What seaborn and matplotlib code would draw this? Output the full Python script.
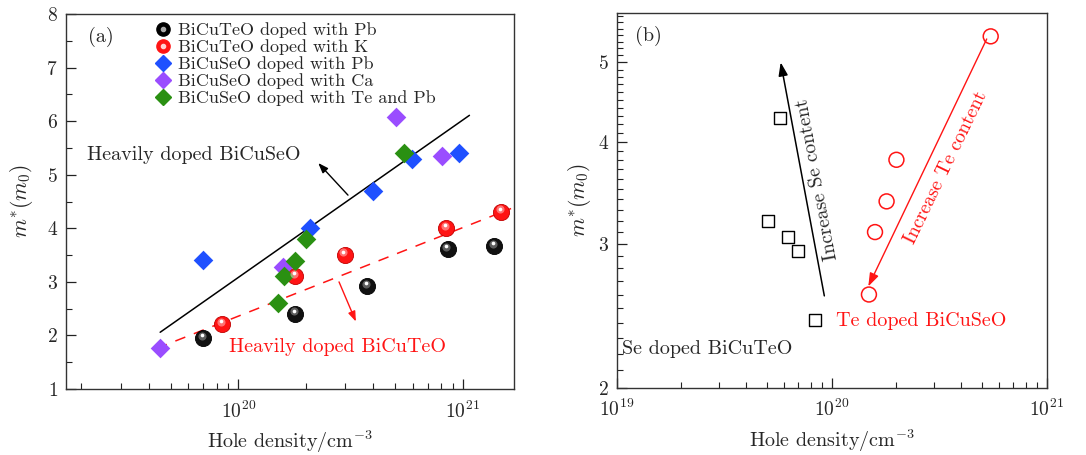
import numpy as np
import matplotlib
matplotlib.use("Agg")
import matplotlib.pyplot as plt
import matplotlib.ticker as mticker
from matplotlib.lines import Line2D
from matplotlib.legend_handler import HandlerTuple
from matplotlib.transforms import offset_copy
import seaborn as sns

# -- data, panel (a)
te_pb_x = [7.0e19, 1.79e20, 3.76e20, 8.58e20, 1.38e21]
te_pb_y = [1.95, 2.41, 2.92, 3.61, 3.67]
te_k_x = [8.49e19, 1.79e20, 2.98e20, 8.44e20, 1.48e21]
te_k_y = [2.21, 3.11, 3.51, 4.00, 4.31]
se_pb_x = [7.0e19, 2.08e20, 3.98e20, 5.93e20, 9.57e20]
se_pb_y = [3.41, 4.00, 4.70, 5.29, 5.40]
se_ca_x = [4.49e19, 1.58e20, 5.06e20, 8.10e20]
se_ca_y = [1.77, 3.28, 6.08, 5.35]
se_tepb_x = [1.51e20, 1.60e20, 1.79e20, 2.00e20, 5.47e20]
se_tepb_y = [2.61, 3.11, 3.39, 3.80, 5.41]

fit_se_x = [4.49e19, 1.07e21]
fit_se_y = [2.06, 6.11]
fit_te_x = [4.34e19, 1.64e21]
fit_te_y = [1.76, 4.37]

labels_a = ["BiCuTeO doped with Pb", "BiCuTeO doped with K", "BiCuSeO doped with Pb",
            "BiCuSeO doped with Ca", "BiCuSeO doped with Te and Pb"]

# -- data, panel (b)
se_doped_x = [5.75e19, 5.07e19, 6.28e19, 6.95e19, 8.39e19]
se_doped_y = [4.27, 3.20, 3.06, 2.94, 2.42]
te_doped_x = [5.49e20, 2.00e20, 1.80e20, 1.59e20, 1.49e20]
te_doped_y = [5.38, 3.80, 3.38, 3.10, 2.60]

# -- style
sns.set_style("ticks")
plt.rcParams['font.family'] = ['cmr10', 'DejaVu Serif']
plt.rcParams['mathtext.fontset'] = 'cm'
plt.rcParams['axes.formatter.use_mathtext'] = True
plt.rcParams['axes.unicode_minus'] = False
plt.rcParams['xtick.direction'] = 'in'
plt.rcParams['ytick.direction'] = 'in'

BLACK = '#111111'
RED = '#ff1414'
BLUE = '#1f50ff'
PURPLE = '#9a4dff'
GREEN = '#2a9012'

FS_TICK = 14
FS_TEXT = 14.5
FS_LABEL = 14.5

fig = plt.figure(figsize=(10.86, 4.55), dpi=100)
ax_a = fig.add_axes([0.0608, 0.145, 0.4125, 0.824])
ax_b = fig.add_axes([0.5679, 0.148, 0.3959, 0.824])


def style_axes(ax):
    for sp in ax.spines.values():
        sp.set_color('#333333')
        sp.set_linewidth(1.0)
    ax.tick_params(which='major', length=7, width=0.9, labelsize=FS_TICK, color='#222222')
    ax.tick_params(axis='y', which='major', pad=6)
    ax.tick_params(axis='x', which='major', pad=8)
    ax.tick_params(which='minor', length=4, width=0.8, color='#222222')
    ax.tick_params(top=False, right=False, which='both')


def spheres(ax, x, y, base, edge, light):
    # shaded balls: base disc + two offset highlights
    sns.scatterplot(x=x, y=y, ax=ax, color=base, s=135, edgecolor=edge, linewidth=0.6, zorder=3)
    tr1 = offset_copy(ax.transData, fig=fig, x=-1.5, y=2.5, units='dots')
    tr2 = offset_copy(ax.transData, fig=fig, x=-1.5, y=3.0, units='dots')
    ax.scatter(x, y, s=34, color=light, alpha=0.55, linewidths=0, transform=tr1, zorder=4)
    ax.scatter(x, y, s=7, color='white', linewidths=0, transform=tr2, zorder=5)


# -- panel (a)
ax = ax_a
ax.set_xscale('log')
sns.lineplot(x=fit_se_x, y=fit_se_y, ax=ax, color='black', lw=1.1, zorder=2)
sns.lineplot(x=fit_te_x, y=fit_te_y, ax=ax, color=RED, lw=1.1, dashes=False, zorder=2)
ax.lines[-1].set_dashes((7, 6))

spheres(ax, te_pb_x, te_pb_y, BLACK, 'black', '#9a9a9a')
spheres(ax, te_k_x, te_k_y, RED, '#c00000', '#ffc0c0')
sns.scatterplot(x=se_pb_x, y=se_pb_y, ax=ax, marker='D', color=BLUE, s=100, linewidth=0, zorder=3)
sns.scatterplot(x=se_ca_x, y=se_ca_y, ax=ax, marker='D', color=PURPLE, s=100, linewidth=0, zorder=3)
sns.scatterplot(x=se_tepb_x, y=se_tepb_y, ax=ax, marker='D', color=GREEN, s=100, linewidth=0, zorder=3)

ax.set_xlim(1.71e19, 1.69e21)
ax.set_ylim(1, 8)
ax.yaxis.set_major_locator(mticker.MultipleLocator(1))
ax.yaxis.set_minor_locator(mticker.MultipleLocator(0.5))
ax.xaxis.set_major_locator(mticker.LogLocator(base=10, numticks=10))
ax.xaxis.set_minor_locator(mticker.LogLocator(base=10, subs=np.arange(2, 10), numticks=20))
ax.xaxis.set_minor_formatter(mticker.NullFormatter())
style_axes(ax)
ax.set_xlabel(r"Hole density/cm$^{-3}$", fontsize=FS_LABEL, labelpad=5)
ax.set_ylabel(r"$m^{*}(m_0)$", fontsize=FS_LABEL + 1, labelpad=8)

ax.text(2.15e19, 7.57, "(a)", fontsize=FS_TEXT, va='center', ha='left')
ax.text(2.13e19, 5.37, "Heavily doped BiCuSeO", fontsize=FS_TEXT, va='center', ha='left')
ax.text(9.1e19, 1.79, "Heavily doped BiCuTeO", fontsize=FS_TEXT, va='center', ha='left', color=RED)
ax.annotate("", xy=(2.27e20, 5.22), xytext=(3.08e20, 4.62),
            arrowprops=dict(arrowstyle='-|>,head_length=0.6,head_width=0.22', color='black',
                            lw=1.0, shrinkA=0, shrinkB=0))
ax.annotate("", xy=(3.34e20, 2.26), xytext=(2.81e20, 3.0),
            arrowprops=dict(arrowstyle='-|>,head_length=0.6,head_width=0.22', color=RED,
                            lw=1.0, shrinkA=0, shrinkB=0))

sphere_k = Line2D([], [], marker='o', ls='', color='black', markersize=9.5)
sphere_k_hi = Line2D([], [], marker='o', ls='', color='#aaaaaa', markersize=3)
sphere_r = Line2D([], [], marker='o', ls='', color=RED, markersize=9.5)
sphere_r_hi = Line2D([], [], marker='o', ls='', color='#ffd0d0', markersize=3)
handles = [
    (sphere_k, sphere_k_hi),
    (sphere_r, sphere_r_hi),
    Line2D([], [], marker='D', ls='', color=BLUE, markersize=8.5),
    Line2D([], [], marker='D', ls='', color=PURPLE, markersize=8.5),
    Line2D([], [], marker='D', ls='', color=GREEN, markersize=8.5),
]
ax.legend(handles, labels_a, loc='upper left', bbox_to_anchor=(0.172, 1.012), frameon=False,
          fontsize=13, handlelength=0.8, handletextpad=0.45, labelspacing=0.07, borderpad=0.2,
          handler_map={tuple: HandlerTuple(ndivide=1, pad=0)})

# -- panel (b)
ax = ax_b
ax.set_xscale('log')
ax.set_yscale('log')
sns.scatterplot(x=se_doped_x, y=se_doped_y, ax=ax, marker='s', s=75, facecolor='none',
                edgecolor='black', linewidth=1.0, zorder=3)
sns.scatterplot(x=te_doped_x, y=te_doped_y, ax=ax, marker='o', s=115, facecolor='none',
                edgecolor=RED, linewidth=1.1, zorder=3)

ax.set_xlim(1e19, 1e21)
ax.set_ylim(2, 5.75)
ax.yaxis.set_major_locator(mticker.FixedLocator([2, 3, 4, 5]))
ax.yaxis.set_major_formatter(mticker.FormatStrFormatter('%d'))
ax.yaxis.set_minor_locator(mticker.FixedLocator(np.arange(2.1, 5.76, 0.1)))
ax.yaxis.set_minor_formatter(mticker.NullFormatter())
ax.xaxis.set_major_locator(mticker.LogLocator(base=10, numticks=10))
ax.xaxis.set_minor_locator(mticker.LogLocator(base=10, subs=np.arange(2, 10), numticks=20))
ax.xaxis.set_minor_formatter(mticker.NullFormatter())
style_axes(ax)
ax.set_xlabel(r"Hole density/cm$^{-3}$", fontsize=FS_LABEL, labelpad=5)
ax.set_ylabel(r"$m^{*}(m_0)$", fontsize=FS_LABEL + 1, labelpad=4)

ax.text(1.22e19, 5.38, "(b)", fontsize=FS_TEXT, va='center', ha='left')
ax.text(1.05e20, 2.41, "Te doped BiCuSeO", fontsize=FS_TEXT, va='center', ha='left', color=RED)
ax.text(1.06e19, 2.23, "Se doped BiCuTeO", fontsize=FS_TEXT, va='center', ha='left')
ax.annotate("", xy=(5.79e19, 5.0), xytext=(9.24e19, 2.59),
            arrowprops=dict(arrowstyle='-|>,head_length=0.8,head_width=0.28', color='black',
                            lw=1.1, shrinkA=0, shrinkB=0))
ax.annotate("", xy=(1.48e20, 2.66), xytext=(5.26e20, 5.34),
            arrowprops=dict(arrowstyle='-|>,head_length=0.8,head_width=0.28', color=RED,
                            lw=1.0, shrinkA=0, shrinkB=0))
ax.text(8.6e19, 3.60, "Increase Se content", fontsize=14, rotation=100.5,
        rotation_mode='anchor', ha='center', va='center')
ax.text(3.39e20, 3.72, "Increase Te content", fontsize=14, rotation=64.1, color=RED,
        rotation_mode='anchor', ha='center', va='center')

fig.savefig("out.png", dpi=100)
